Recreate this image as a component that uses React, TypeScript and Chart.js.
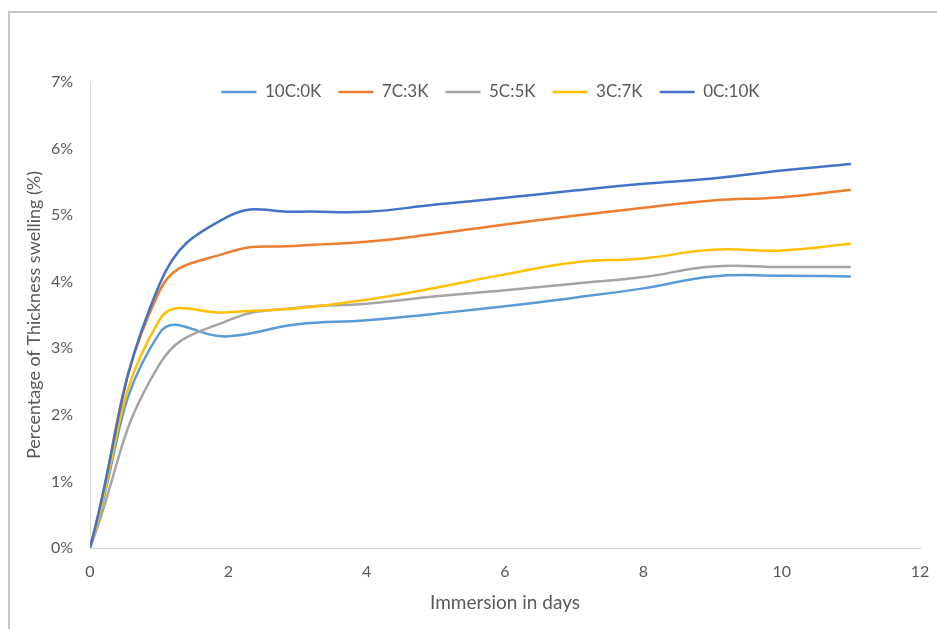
import React, { useEffect, useRef } from "react";
import { Chart, registerables } from "chart.js";

Chart.register(...registerables);

const days = [0, 1, 2, 3, 4, 5, 6, 7, 8, 9, 10, 11];
const seriesNames = ["10C:0K", "7C:3K", "5C:5K", "3C:7K", "0C:10K"];
const s10C0K = [0, 3.22, 3.18, 3.36, 3.42, 3.52, 3.63, 3.76, 3.9, 4.08, 4.09, 4.08];
const s7C3K = [0, 3.85, 4.44, 4.54, 4.6, 4.72, 4.86, 4.99, 5.11, 5.22, 5.27, 5.38];
const s5C5K = [0, 2.75, 3.42, 3.61, 3.67, 3.78, 3.87, 3.97, 4.07, 4.23, 4.22, 4.22];
const s3C7K = [0, 3.42, 3.54, 3.6, 3.73, 3.91, 4.11, 4.29, 4.35, 4.48, 4.47, 4.57];
const s0C10K = [0, 3.95, 4.98, 5.05, 5.05, 5.16, 5.26, 5.37, 5.47, 5.55, 5.67, 5.77];
const seriesValues = [s10C0K, s7C3K, s5C5K, s3C7K, s0C10K];
const seriesColors = ["#5B9BD5", "#ED7D31", "#A5A5A5", "#FFC000", "#4472C4"];
const xTitle = "Immersion in days";
const yTitle = "Percentage of Thickness swelling (%)";

const FONT = "Lato";
const GREY = "#595959";
const LEGEND_PAD = 17;
const LEGEND_FONT = 17;
const LEGEND_CX = 480.5; // legend centre, canvas px
const LEGEND_CY = 79;

// moves the top legend down over the plot, as in the original
const legendShift = {
  id: "legendShift",
  afterLayout(chart: any) {
    const lg = chart.legend;
    if (!lg) return;
    const dx = LEGEND_CX - (lg.left + lg.right) / 2;
    const dy = LEGEND_CY - (lg.top + LEGEND_PAD + LEGEND_FONT / 2);
    lg.left += dx;
    lg.right += dx;
    lg.top += dy;
    lg.bottom += dy;
  },
};

export default function App() {
  const ref = useRef<HTMLCanvasElement>(null);
  useEffect(() => {
    const canvas = ref.current;
    if (!canvas) return;
    const chart = new Chart(canvas, {
      type: "line",
      data: {
        datasets: seriesNames.map((name, i) => ({
          label: name,
          data: days.map((d, j) => ({ x: d, y: seriesValues[i][j] })),
          borderColor: seriesColors[i],
          backgroundColor: seriesColors[i],
          borderWidth: 2.5,
          pointRadius: 0,
          tension: 0.45,
          fill: false,
          order: 5 - i,
        })),
      },
      plugins: [legendShift],
      options: {
        animation: false,
        responsive: false,
        maintainAspectRatio: false,
        layout: { padding: { left: 0, right: 50, top: 25, bottom: 11 } },
        plugins: {
          tooltip: { enabled: false },
          legend: {
            position: "top",
            labels: {
              usePointStyle: true,
              pointStyle: "line",
              pointStyleWidth: 35,
              boxHeight: 16,
              padding: LEGEND_PAD,
              color: GREY,
              font: { family: FONT, size: LEGEND_FONT },
              sort: (a: any, b: any) => a.datasetIndex - b.datasetIndex,
            },
          },
        },
        scales: {
          x: {
            type: "linear",
            min: 0,
            max: 12,
            ticks: { stepSize: 2, color: GREY, padding: 14, font: { family: FONT, size: 16 } },
            grid: { display: false, drawTicks: false },
            border: { display: true, color: "#D0D0D0", width: 1 },
            title: { display: true, text: xTitle, color: GREY, font: { family: FONT, size: 19 }, padding: { top: 8 } },
            afterFit: (s: any) => { s.height = 70; },
          },
          y: {
            type: "linear",
            min: 0,
            max: 7,
            ticks: { stepSize: 1, color: GREY, padding: 17, font: { family: FONT, size: 16 }, callback: (v: any) => v + "%" },
            grid: { display: false, drawTicks: false },
            border: { display: true, color: "#D9D9D9", width: 1 },
            title: { display: true, text: yTitle, color: GREY, font: { family: FONT, size: 18 }, padding: { top: 13 } },
            afterFit: (s: any) => { s.width = 80; },
          },
        },
      },
    });
    return () => chart.destroy();
  }, []);
  return (
    <div
      style={{
        position: "fixed",
        left: 8,
        top: 11,
        width: 929,
        height: 618,
        overflow: "hidden",
        borderLeft: "2px solid #c6c6c6",
        borderTop: "2px solid #c6c6c6",
        boxSizing: "border-box",
        background: "#fff",
      }}
    >
      <canvas ref={ref} width={960} height={616} style={{ display: "block" }} />
    </div>
  );
}
